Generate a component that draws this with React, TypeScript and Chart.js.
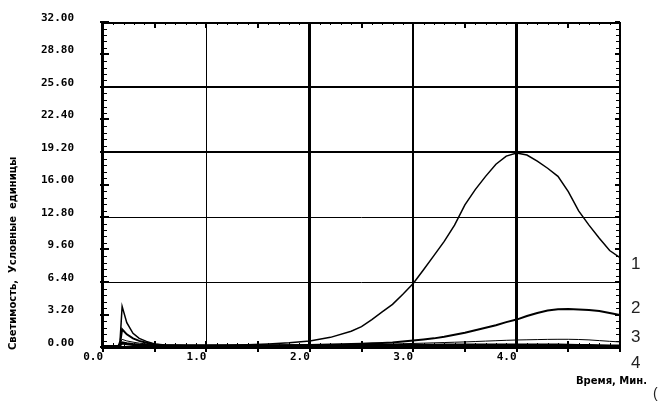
import React, { useEffect, useRef } from "react";
import { Chart, registerables } from "chart.js";

Chart.register(...registerables);

const times = [0, 0.1, 0.15, 0.165, 0.185, 0.23, 0.29, 0.35, 0.42, 0.5, 0.6, 0.8, 1.0, 1.2, 1.4, 1.6, 1.8, 2.0, 2.2, 2.4, 2.5, 2.6, 2.7, 2.8, 2.9, 3.0, 3.1, 3.2, 3.3, 3.4, 3.5, 3.6, 3.7, 3.8, 3.9, 4.0, 4.1, 4.2, 4.3, 4.4, 4.5, 4.6, 4.7, 4.8, 4.9, 5.0];

const series1 = [0.1, 0.1, 0.15, 0.6, 4.0, 2.4, 1.35, 0.85, 0.55, 0.3, 0.2, 0.15, 0.15, 0.18, 0.22, 0.3, 0.42, 0.6, 0.95, 1.55, 2.0, 2.7, 3.45, 4.2, 5.2, 6.25, 7.6, 9.0, 10.4, 12.0, 14.0, 15.5, 16.8, 18.0, 18.8, 19.1, 18.9, 18.3, 17.6, 16.8, 15.3, 13.4, 12.0, 10.7, 9.5, 8.8];

const series2 = [0.05, 0.05, 0.1, 0.3, 1.75, 1.25, 0.85, 0.6, 0.42, 0.25, 0.15, 0.1, 0.1, 0.1, 0.12, 0.15, 0.18, 0.2, 0.25, 0.3, 0.33, 0.36, 0.4, 0.45, 0.55, 0.65, 0.75, 0.85, 1.0, 1.2, 1.4, 1.65, 1.9, 2.15, 2.45, 2.7, 3.05, 3.35, 3.6, 3.72, 3.75, 3.7, 3.65, 3.55, 3.35, 3.15];

const series3 = [0.05, 0.05, 0.1, 0.4, 0.75, 0.6, 0.48, 0.38, 0.3, 0.2, 0.12, 0.08, 0.08, 0.08, 0.1, 0.12, 0.13, 0.15, 0.17, 0.2, 0.22, 0.24, 0.26, 0.29, 0.32, 0.35, 0.38, 0.41, 0.44, 0.47, 0.5, 0.54, 0.58, 0.62, 0.66, 0.69, 0.71, 0.73, 0.75, 0.76, 0.76, 0.74, 0.7, 0.63, 0.56, 0.5];

const series4 = [0.05, 0.05, 0.08, 0.2, 0.4, 0.32, 0.25, 0.2, 0.16, 0.13, 0.12, 0.12, 0.12, 0.12, 0.12, 0.13, 0.13, 0.14, 0.14, 0.15, 0.15, 0.15, 0.16, 0.16, 0.17, 0.17, 0.18, 0.18, 0.19, 0.19, 0.2, 0.2, 0.2, 0.2, 0.2, 0.2, 0.2, 0.2, 0.2, 0.2, 0.18, 0.16, 0.14, 0.12, 0.1, 0.1];

const seriesLabels = ["1", "2", "3", "4"];
const seriesWidths = [1.5, 2, 1, 3];

const xTickValues = [0, 1, 2, 3, 4, 5];
const xTickLabels = ["0.0", "1.0", "2.0", "3.0", "4.0", ""];
const yTickValues = [0, 3.2, 6.4, 9.6, 12.8, 16, 19.2, 22.4, 25.6, 28.8, 32];
const yTickLabels = ["0.00", "3.20", "6.40", "9.60", "12.80", "16.00", "19.20", "22.40", "25.60", "28.80", "32.00"];

const xTitle = "Время, Мин.";
const yTitle = "Светимость,  Условные  единицы";

const xGridWidth: Record<number, number> = { 1: 1, 2: 3, 3: 2, 4: 3 };
const yGridWidth: Record<string, number> = { "6.4": 1, "12.8": 1, "19.2": 2, "25.6": 2 };

const framePlugin = {
  id: "frame",
  afterDatasetsDraw(chart: any) {
    const { ctx, chartArea: a, scales } = chart;
    const xs = scales.x;
    const ys = scales.y;
    ctx.save();
    ctx.fillStyle = "#000";
    const w = a.right - a.left;
    const h = a.bottom - a.top;
    ctx.fillRect(a.left - 2, a.top, 3, h + 2);
    ctx.fillRect(a.left, a.top, w, 2);
    ctx.fillRect(a.left, a.bottom - 1, w, 3);
    ctx.fillRect(a.right - 1, a.top, 2, h + 2);
    const yMax = yTickValues[yTickValues.length - 1];
    const yStep = (yTickValues[1] - yTickValues[0]) / 5;
    const nY = Math.round(yMax / yStep);
    for (let i = 0; i <= nY; i++) {
      const py = Math.round(ys.getPixelForValue(i * yStep));
      if (i % 5 === 0) {
        ctx.fillRect(a.left - 3, py - 1, 9, 2);
        ctx.fillRect(a.right - 5, py - 1, 5, 2);
      } else {
        ctx.fillRect(a.left, py, 4, 1);
        ctx.fillRect(a.right - 4, py, 4, 1);
      }
    }
    const xMax = xTickValues[xTickValues.length - 1];
    const xStep = 0.1;
    const nX = Math.round(xMax / xStep);
    for (let i = 0; i <= nX; i++) {
      const px = Math.round(xs.getPixelForValue(i * xStep));
      if (i % 5 === 0) {
        ctx.fillRect(px - 1, a.top, 2, 6);
        ctx.fillRect(px - 1, a.bottom - 6, 2, 11);
      } else {
        ctx.fillRect(px, a.top, 1, 3);
        ctx.fillRect(px, a.bottom - 4, 1, 4);
      }
    }
    ctx.restore();
  },
  afterDraw(chart: any) {
    const { ctx, chartArea: a } = chart;
    ctx.save();
    ctx.fillStyle = "#000";
    ctx.font = "bold 10px 'DejaVu Sans'";
    ctx.textBaseline = "middle";
    ctx.textAlign = "left";
    ctx.save();
    ctx.translate(13, 350);
    ctx.rotate(-Math.PI / 2);
    ctx.fillText(yTitle, 0, 0);
    ctx.restore();
    ctx.textAlign = "right";
    ctx.fillText(xTitle, 647, 381.5);
    ctx.font = "17px 'Liberation Sans'";
    ctx.fillStyle = "#222";
    ctx.textAlign = "left";
    const labelY = [264, 308, 337, 363];
    seriesLabels.forEach((s, i) => {
      ctx.fillText(s, a.right + 11, labelY[i]);
    });
    ctx.font = "14px 'Liberation Sans'";
    ctx.fillText("(", 653, 394);
    ctx.restore();
  },
};

export default function App() {
  const ref = useRef<HTMLCanvasElement | null>(null);
  useEffect(() => {
    document.body.style.margin = "0";
    const canvas = ref.current;
    if (!canvas) return;
    const all = [series1, series2, series3, series4];
    const chart = new Chart(canvas, {
      type: "line",
      data: {
        datasets: all.map((s, i) => ({
          label: seriesLabels[i],
          data: s.map((v, j) => ({ x: times[j], y: v })),
          borderColor: "#000",
          borderWidth: seriesWidths[i],
          pointRadius: 0,
          tension: 0,
          fill: false,
        })),
      },
      options: {
        animation: false,
        responsive: false,
        devicePixelRatio: 1,
        layout: { padding: { top: 22, right: 38, left: 0, bottom: 0 } },
        plugins: { legend: { display: false }, tooltip: { enabled: false } },
        scales: {
          x: {
            type: "linear",
            min: 0,
            max: 5,
            afterBuildTicks: (scale: any) => {
              scale.ticks = xTickValues.map((v) => ({ value: v }));
            },
            afterFit: (scale: any) => {
              scale.height = 55;
              scale.paddingLeft = 0;
              scale.paddingRight = 0;
            },
            border: { display: false },
            grid: {
              drawTicks: false,
              color: (c: any) => (xGridWidth[c.tick?.value] ? "#000" : "rgba(0,0,0,0)"),
              lineWidth: (c: any) => xGridWidth[c.tick?.value] || 0,
            },
            ticks: {
              align: "end",
              padding: 4,
              maxRotation: 0,
              autoSkip: false,
              color: "#000",
              font: { family: "'DejaVu Sans Mono'", size: 11, weight: "bold" },
              callback: (v: any, i: number) => xTickLabels[i],
            },
          },
          y: {
            type: "linear",
            min: 0,
            max: 32,
            afterBuildTicks: (scale: any) => {
              scale.ticks = yTickValues.map((v) => ({ value: v }));
            },
            afterFit: (scale: any) => {
              scale.width = 103;
              scale.paddingTop = 0;
              scale.paddingBottom = 0;
            },
            border: { display: false },
            grid: {
              drawTicks: false,
              color: (c: any) => (yGridWidth[String(c.tick?.value)] ? "#000" : "rgba(0,0,0,0)"),
              lineWidth: (c: any) => yGridWidth[String(c.tick?.value)] || 0,
            },
            ticks: {
              padding: 29,
              labelOffset: -4,
              autoSkip: false,
              color: "#000",
              font: { family: "'DejaVu Sans Mono'", size: 11, weight: "bold" },
              callback: (v: any, i: number) => yTickLabels[i],
            },
          },
        },
      },
      plugins: [framePlugin],
    } as any);
    return () => chart.destroy();
  }, []);
  return <canvas ref={ref} width={658} height={402} style={{ display: "block" }} />;
}
